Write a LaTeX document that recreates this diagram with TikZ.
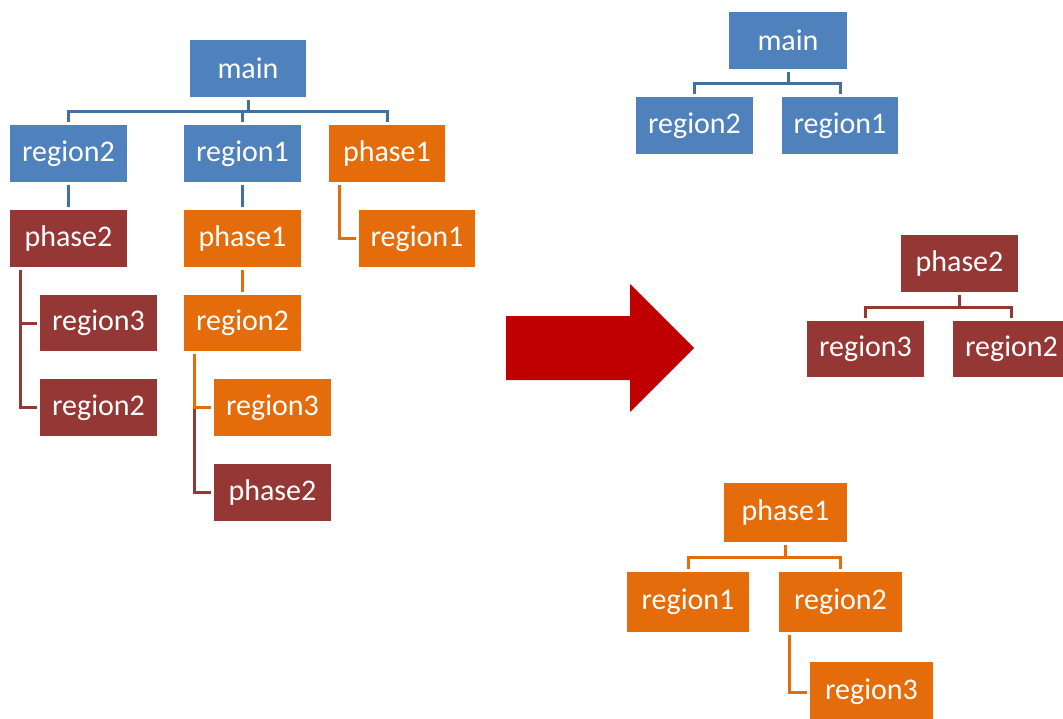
\documentclass[tikz,border=0pt]{standalone}
\usepackage{fontspec}
\setmainfont{Carlito}
\usetikzlibrary{calc}
\definecolor{cblue}{HTML}{4F81BD}
\definecolor{cmar}{HTML}{953735}
\definecolor{corg}{HTML}{E46C0A}
\definecolor{lblue}{HTML}{41719C}
\definecolor{lmar}{HTML}{953735}
\definecolor{lorg}{HTML}{E46C0A}
\definecolor{arrowred}{HTML}{C00000}
\tikzset{
  box/.style={rectangle, inner sep=0pt, minimum width=117pt, minimum height=57pt,
    text=white, font=\fontsize{30}{35}\selectfont},
  bbox/.style={box, fill=cblue},
  mbox/.style={box, fill=cmar},
  obox/.style={box, fill=corg},
  conn/.style={line width=3pt, shorten <=3pt, shorten >=3pt},
  bline/.style={conn, draw=lblue},
  mline/.style={conn, draw=lmar},
  oline/.style={conn, draw=lorg},
}
\begin{document}
\begin{tikzpicture}[x=1pt,y=-1pt]
\useasboundingbox (0,0) rectangle (1063,718);
% left tree
\node[bbox, minimum width=116pt] (main) at (248,68.5) {main};
\node[bbox] (Lr2) at (68.5,153.5) {region2};
\node[bbox] (Lr1) at (242.5,153.5) {region1};
\node[obox, minimum width=116pt] (Lp1) at (387,153.5) {phase1};
\node[mbox] (Lp2) at (68.5,238.5) {phase2};
\node[obox] (Lp1b) at (242.5,238.5) {phase1};
\node[obox, minimum width=116pt] (Lr1b) at (417,238.5) {region1};
\node[mbox, minimum height=56pt] (Lr3m) at (98.5,323) {region3};
\node[mbox] (Lr2m) at (98.5,407.5) {region2};
\node[obox, minimum height=56pt] (Lr2o) at (242.5,323) {region2};
\node[obox] (Lr3o) at (272.5,407.5) {region3};
\node[mbox] (Lp2m) at (272.5,492.5) {phase2};
\draw[bline] (main.south) -- (main.south |- 0,111) -| (Lr2.north);
\draw[bline] (main.south) -- (main.south |- 0,111) -| (Lr1.north);
\draw[bline] (main.south) -- (main.south |- 0,111) -| (Lp1.north);
\draw[bline] (Lr2.south) -- (Lp2.north);
\draw[bline] (Lr1.south) -- (Lp1b.north);
\draw[oline] (Lp1b.south) -- (Lr2o.north);
\draw[oline] ([xshift=11pt]Lp1.south west) |- (Lr1b.west);
\draw[mline] ([xshift=11pt]Lp2.south west) |- (Lr3m.west);
\draw[mline] ([xshift=11pt]Lp2.south west) |- (Lr2m.west);
\draw[mline] ([xshift=11pt]Lr2o.south west) |- (Lp2m.west);
\draw[oline] ([xshift=11pt]Lr2o.south west) |- (Lr3o.west);
% arrow
\fill[arrowred] (506,316) -- (630,316) -- (630,284) -- (694,348) -- (630,412) -- (630,380) -- (506,380) -- cycle;
% right top
\node[bbox, minimum width=118pt] (Rmain) at (788,40.5) {main};
\node[bbox] (Rr2) at (694.5,125.5) {region2};
\node[bbox, minimum width=116pt] (Rr1) at (840,125.5) {region1};
\draw[bline] (Rmain.south) -- (Rmain.south |- 0,83) -| (Rr2.north);
\draw[bline] (Rmain.south) -- (Rmain.south |- 0,83) -| (Rr1.north);
% right middle
\node[mbox] (Rp2) at (959.5,263.5) {phase2};
\node[mbox, minimum height=56pt] (Rr3) at (865.5,349) {region3};
\node[mbox, minimum height=56pt] (Rr2m) at (1011.5,349) {region2};
\draw[mline] (Rp2.south) -- (Rp2.south |- 0,307) -| (Rr3.north);
\draw[mline] (Rp2.south) -- (Rp2.south |- 0,307) -| (Rr2m.north);
% right bottom
\node[obox, minimum width=123pt, minimum height=59pt] (Rp1) at (785.5,512.5) {phase1};
\node[obox, minimum width=122pt, minimum height=60pt] (Rr1o) at (688,602) {region1};
\node[obox, minimum width=123pt, minimum height=60pt] (Rr2o) at (840.5,602) {region2};
\node[obox, minimum width=123pt, minimum height=60pt] (Rr3o) at (871.5,692) {region3};
\draw[oline] (Rp1.south) -- (Rp1.south |- 0,557) -| (Rr1o.north);
\draw[oline] (Rp1.south) -- (Rp1.south |- 0,557) -| (Rr2o.north);
\draw[oline] ([xshift=11pt]Rr2o.south west) |- (Rr3o.west);
\end{tikzpicture}
\end{document}
